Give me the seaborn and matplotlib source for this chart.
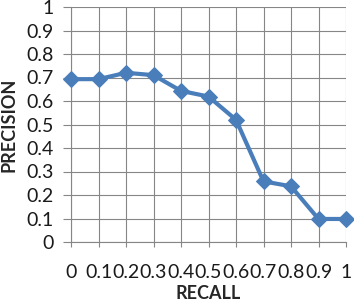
import matplotlib
matplotlib.use("Agg")
import matplotlib.pyplot as plt
import seaborn as sns
import pandas as pd

recall = [0, 0.1, 0.2, 0.3, 0.4, 0.5, 0.6, 0.7, 0.8, 0.9, 1.0]
precision = [0.693, 0.693, 0.72, 0.71, 0.643, 0.619, 0.52, 0.258, 0.237, 0.098, 0.098]
xtick_labels = ["0", "0.1", "0.2", "0.3", "0.4", "0.5", "0.6", "0.7", "0.8", "0.9", "1"]
ytick_values = [0, 0.1, 0.2, 0.3, 0.4, 0.5, 0.6, 0.7, 0.8, 0.9, 1]
ytick_labels = ["0", "0.1", "0.2", "0.3", "0.4", "0.5", "0.6", "0.7", "0.8", "0.9", "1"]

df = pd.DataFrame({"RECALL": recall, "PRECISION": precision})

sns.set_style("white")
plt.rcParams["font.family"] = ["Lato", "DejaVu Sans"]

fig = plt.figure(figsize=(3.54, 3.07), dpi=100)
ax = fig.add_axes([71/354, 1 - 242/307, (346-71)/354, (242-7)/307])

sns.lineplot(data=df, x="RECALL", y="PRECISION", ax=ax, color="#4a7ebb",
             linewidth=3, marker="D", markersize=8.5, markeredgecolor="#4a7ebb",
             clip_on=False, zorder=5)

ax.set_xlim(0, 1)
ax.set_ylim(0, 1)
ax.set_xticks(recall)
ax.set_xticklabels(xtick_labels)
ax.set_yticks(ytick_values)
ax.set_yticklabels(ytick_labels)
ax.grid(True, color="#868686", linewidth=0.8)
for s in ["top", "right"]:
    ax.spines[s].set_visible(False)
for s in ["left", "bottom"]:
    ax.spines[s].set_color("#868686")
    ax.spines[s].set_linewidth(0.8)
ax.tick_params(axis="both", colors="#868686", labelcolor="#1a1a1a", labelsize=14,
               width=0.8, direction="out", bottom=True, left=True)
ax.tick_params(axis="x", length=3.8, pad=12)
ax.tick_params(axis="y", length=5.5, pad=7)
ax.set_xlabel("RECALL", fontsize=13, fontweight="bold", labelpad=3)
ax.set_ylabel("PRECISION", fontsize=13, fontweight="bold", labelpad=6)

fig.savefig("out.png", dpi=100)
